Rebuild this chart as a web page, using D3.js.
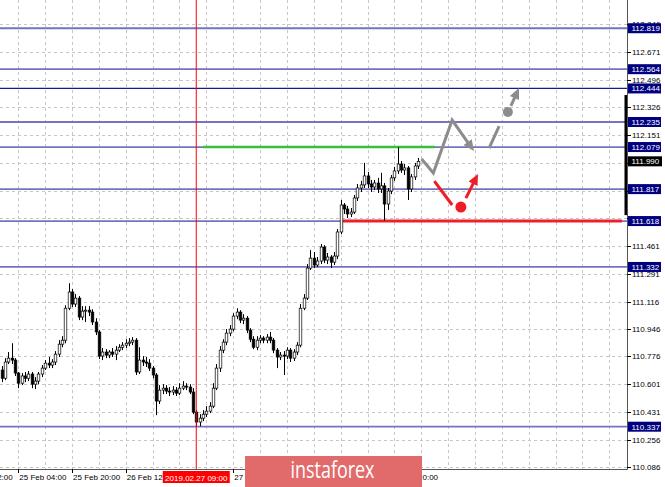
<!DOCTYPE html>
<html><head><meta charset="utf-8">
<script src="https://cdn.jsdelivr.net/npm/d3@7"></script>
<style>html,body{margin:0;padding:0;background:#fff;overflow:hidden}svg{display:block}</style>
</head><body><svg id="c" width="665" height="487"></svg>
<script>
// ---- data (USD/JPY H1) ----
const openP = [110.690,110.639,110.740,110.764,110.752,110.671,110.608,110.653,110.639,110.665,110.602,110.621,110.665,110.702,110.733,110.721,110.740,110.789,110.851,110.876,111.075,111.176,111.101,111.138,111.020,111.057,111.063,111.051,110.989,110.927,110.777,110.802,110.783,110.802,110.789,110.814,110.832,110.845,110.857,110.864,110.876,110.678,110.752,110.740,110.733,110.702,110.659,110.497,110.565,110.577,110.559,110.553,110.565,110.546,110.577,110.590,110.584,110.553,110.428,110.366,110.390,110.415,110.434,110.465,110.577,110.702,110.814,110.864,110.920,110.945,111.026,111.051,111.001,111.013,110.939,110.882,110.832,110.876,110.889,110.876,110.895,110.876,110.814,110.771,110.783,110.777,110.814,110.764,110.802,110.845,111.075,111.138,111.325,111.387,111.344,111.369,111.456,111.375,111.394,111.362,111.400,111.550,111.718,111.693,111.662,111.674,111.762,111.824,111.843,111.899,111.849,111.830,111.855,111.818,111.837,111.724,111.805,111.887,111.930,111.973,111.936,111.949,111.818,111.893,111.961];
const highP = [110.715,110.764,110.802,110.857,110.764,110.678,110.671,110.678,110.684,110.678,110.646,110.678,110.721,110.752,110.771,110.758,110.808,110.876,110.901,111.094,111.231,111.194,111.163,111.151,111.088,111.088,111.088,111.069,111.013,110.939,110.827,110.820,110.814,110.827,110.839,110.851,110.864,110.882,110.889,110.895,110.889,110.832,110.777,110.771,110.758,110.715,110.671,110.596,110.602,110.596,110.584,110.590,110.584,110.608,110.621,110.608,110.602,110.577,110.440,110.415,110.440,110.465,110.490,110.608,110.727,110.839,110.882,110.945,110.970,111.044,111.075,111.063,111.038,111.026,110.951,110.901,110.901,110.908,110.901,110.914,110.927,110.889,110.827,110.802,110.808,110.832,110.827,110.820,110.864,111.101,111.163,111.350,111.437,111.425,111.394,111.475,111.468,111.419,111.406,111.425,111.568,111.749,111.730,111.712,111.699,111.780,111.849,111.868,111.980,111.924,111.874,111.874,111.887,111.918,111.855,111.824,111.905,111.955,112.078,111.992,111.973,111.961,111.911,111.980,112.011];
const lowP = [110.615,110.627,110.727,110.727,110.653,110.577,110.596,110.615,110.621,110.577,110.571,110.602,110.646,110.690,110.702,110.702,110.721,110.771,110.832,110.857,111.063,111.082,111.082,111.001,111.001,110.989,111.026,110.970,110.908,110.758,110.752,110.764,110.764,110.771,110.752,110.802,110.814,110.827,110.839,110.845,110.659,110.665,110.715,110.709,110.684,110.639,110.409,110.478,110.540,110.540,110.528,110.534,110.528,110.534,110.565,110.565,110.540,110.415,110.337,110.340,110.372,110.397,110.422,110.453,110.565,110.678,110.795,110.845,110.901,110.932,111.007,110.982,110.976,110.920,110.864,110.820,110.814,110.857,110.857,110.857,110.857,110.795,110.702,110.752,110.659,110.758,110.740,110.746,110.783,110.832,111.063,111.126,111.313,111.325,111.331,111.350,111.356,111.350,111.325,111.344,111.381,111.537,111.662,111.637,111.643,111.662,111.743,111.799,111.824,111.824,111.799,111.811,111.793,111.793,111.620,111.687,111.786,111.868,111.911,111.918,111.905,111.749,111.799,111.874,111.942];
const closeP = [110.639,110.740,110.764,110.752,110.671,110.608,110.653,110.639,110.665,110.602,110.621,110.665,110.702,110.733,110.721,110.740,110.789,110.851,110.876,111.075,111.176,111.101,111.138,111.020,111.057,111.063,111.051,110.989,110.927,110.777,110.802,110.783,110.802,110.789,110.814,110.832,110.845,110.857,110.864,110.876,110.678,110.752,110.740,110.733,110.702,110.659,110.497,110.565,110.577,110.559,110.553,110.565,110.546,110.577,110.590,110.584,110.553,110.428,110.366,110.390,110.415,110.434,110.465,110.577,110.702,110.814,110.864,110.920,110.945,111.026,111.051,111.001,111.013,110.939,110.882,110.832,110.876,110.889,110.876,110.895,110.876,110.814,110.771,110.783,110.777,110.814,110.764,110.802,110.845,111.075,111.138,111.325,111.387,111.344,111.369,111.456,111.375,111.394,111.362,111.400,111.550,111.718,111.693,111.662,111.674,111.762,111.824,111.843,111.899,111.849,111.830,111.855,111.818,111.837,111.724,111.805,111.887,111.930,111.973,111.936,111.949,111.818,111.893,111.961,111.990];

const priceTicks = [110.086,110.256,110.431,110.601,110.776,110.946,111.116,111.291,111.461,111.636,111.806,111.981,112.151,112.326,112.496,112.671,112.846];
const levels = [112.819,112.564,112.444,112.235,112.079,111.817,111.618,111.332,110.337];
const currentPrice = 111.990;
const timeLabels = ["24 Feb 12:00","25 Feb 04:00","25 Feb 20:00","26 Feb 12:00","27 Feb 20:00","1 Mar 20:00"];
const timeLabelBars = [-11,5,21,37,69,117];
const markerBar = 58, markerLabel = "2019.02.27 09:00";
const gridBars = d3.range(5, 186, 8);

// analyst annotations in (bar, price)
const greenLine = [[60,112.079],[129,112.079]];
const redLine = [[101,111.618],[184.8,111.618]];
const rangeBar = [111.655,112.403];
const greyPath1 = [[125.1,112.004],[128.6,111.917],[134.2,112.247],[140.7,112.054]];
const greyPath2 = [[145.2,112.073],[148.2,112.210]];
const greyDot = [150.8,112.297];
const greyArrow = [[151.7,112.335],[154.1,112.447]];
const redPath = [[128.9,111.867],[134.2,111.718]];
const redDot = [136.8,111.705];
const redArrow = [[138.3,111.761],[141.9,111.911]];

// ---- drawing ----
const svg = d3.select("#c");
const W = 665, H = 487, plotR = 627, plotB = 469;
const x = d3.scaleLinear().domain([0,176]).range([1.5, 1.5+3.358*176]);
const y = d3.scaleLinear().domain([110.086,112.671]).range([467,52]);
const FONT = "'Liberation Sans', Arial, sans-serif";

svg.append("rect").attr("width",W).attr("height",H).attr("fill","#fff");
const plot = svg.append("g");
plot.append("clipPath").attr("id","pc").append("rect").attr("x",0).attr("y",0).attr("width",plotR).attr("height",plotB);
const g = plot.append("g").attr("clip-path","url(#pc)");

// grid
g.selectAll("line.hg").data(priceTicks).join("line")
  .attr("x1",0).attr("x2",plotR).attr("y1",d=>Math.round(y(d))+0.5).attr("y2",d=>Math.round(y(d))+0.5)
  .attr("stroke","#c6c6c6").attr("stroke-dasharray","3,3").attr("stroke-width",1);
g.selectAll("line.vg").data(gridBars).join("line")
  .attr("x1",d=>Math.round(x(d))+0.5).attr("x2",d=>Math.round(x(d))+0.5).attr("y1",0).attr("y2",plotB)
  .attr("stroke","#c6c6c6").attr("stroke-dasharray","3,3").attr("stroke-width",1);

// level lines
g.selectAll("line.lv").data(levels).join("line")
  .attr("x1",0).attr("x2",plotR).attr("y1",d=>y(d)).attr("y2",d=>y(d))
  .attr("stroke",d=>d===112.444?"#1a1a86":"#7373c2").attr("stroke-width",d=>d===112.444?1.3:1.8);

const line = d3.line().x(d=>x(d[0])).y(d=>y(d[1]));
g.append("path").attr("d",line(greenLine)).attr("stroke","#38c038").attr("stroke-width",2.6).attr("fill","none");
g.append("path").attr("d",line(redLine)).attr("stroke","#f0202a").attr("stroke-width",3).attr("fill","none");

// candles
const idx = d3.range(closeP.length);
const cg = g.append("g");
cg.selectAll("line.w").data(idx).join("line")
  .attr("x1",i=>Math.round(x(i))+0.5).attr("x2",i=>Math.round(x(i))+0.5)
  .attr("y1",i=>y(highP[i])).attr("y2",i=>y(lowP[i]))
  .attr("stroke","#000").attr("stroke-width",1);
cg.selectAll("rect.b").data(idx).join("rect")
  .attr("x",i=>Math.round(x(i))-0.8).attr("width",2.6)
  .attr("y",i=>y(Math.max(openP[i],closeP[i])))
  .attr("height",i=>Math.max(1,Math.abs(y(openP[i])-y(closeP[i]))))
  .attr("fill",i=>closeP[i]>=openP[i]?"#fff":"#000")
  .attr("stroke","#000").attr("stroke-width",0.7);

// forecast annotations
function arrowHead(sel, p0, p1, color, len, wid){
  const x0=x(p0[0]), y0=y(p0[1]), x1=x(p1[0]), y1=y(p1[1]);
  const a=Math.atan2(y1-y0,x1-x0), c=Math.cos(a), s=Math.sin(a);
  const bx=x1-len*c, by=y1-len*s;
  sel.append("polygon").attr("points",[[x1,y1],[bx-wid/2*s,by+wid/2*c],[bx+wid/2*s,by-wid/2*c]].map(p=>p.join(",")).join(" ")).attr("fill",color);
}
function shortLine(p0,p1,len){
  const x0=x(p0[0]), y0=y(p0[1]), x1=x(p1[0]), y1=y(p1[1]);
  const d=Math.hypot(x1-x0,y1-y0);
  return [x1-(x1-x0)*len/d, y1-(y1-y0)*len/d];
}
const ag = g.append("g").attr("fill","none");
const GREY="#8c8c8c", RED="#ee1c25";
{
  const pts = greyPath1.map(d=>[x(d[0]),y(d[1])]);
  const n=greyPath1.length; pts[n-1]=shortLine(greyPath1[n-2],greyPath1[n-1],8);
  ag.append("path").attr("d",d3.line()(pts)).attr("stroke",GREY).attr("stroke-width",3).attr("fill","none");
  arrowHead(ag,greyPath1[n-2],greyPath1[n-1],GREY,11,10);
  ag.append("path").attr("d",line(greyPath2)).attr("stroke",GREY).attr("stroke-width",3);
  ag.append("circle").attr("cx",x(greyDot[0])).attr("cy",y(greyDot[1])).attr("r",5).attr("fill",GREY);
  const e = shortLine(greyArrow[0],greyArrow[1],8);
  ag.append("path").attr("d",d3.line()([[x(greyArrow[0][0]),y(greyArrow[0][1])],e])).attr("stroke",GREY).attr("stroke-width",3);
  arrowHead(ag,greyArrow[0],greyArrow[1],GREY,11,10);

  ag.append("path").attr("d",line(redPath)).attr("stroke",RED).attr("stroke-width",3);
  ag.append("circle").attr("cx",x(redDot[0])).attr("cy",y(redDot[1])).attr("r",5.5).attr("fill",RED);
  const e2 = shortLine(redArrow[0],redArrow[1],8);
  ag.append("path").attr("d",d3.line()([[x(redArrow[0][0]),y(redArrow[0][1])],e2])).attr("stroke",RED).attr("stroke-width",3);
  arrowHead(ag,redArrow[0],redArrow[1],RED,11,10);
}

// marker vertical line
g.append("line").attr("x1",x(markerBar)).attr("x2",x(markerBar)).attr("y1",0).attr("y2",plotB)
  .attr("stroke","#ff0000").attr("stroke-width",1);

// range bar at right edge
svg.append("rect").attr("x",plotR-2.5).attr("width",2.5).attr("y",y(rangeBar[1])).attr("height",y(rangeBar[0])-y(rangeBar[1])).attr("fill","#000");

// frame
svg.append("line").attr("x1",plotR+0.5).attr("x2",plotR+0.5).attr("y1",0).attr("y2",plotB+0.5).attr("stroke","#555").attr("stroke-width",1);
svg.append("line").attr("x1",0).attr("x2",plotR+0.5).attr("y1",plotB+0.5).attr("y2",plotB+0.5).attr("stroke","#555").attr("stroke-width",1);

// price axis (labels hidden where a level/price box covers them, as in the terminal)
const boxPrices = levels.concat([currentPrice]);
const visibleTicks = priceTicks.filter(t => !boxPrices.some(b => Math.abs(y(b)-y(t)) < 3.5));
const pa = svg.append("g");
pa.selectAll("line").data(priceTicks).join("line")
  .attr("x1",plotR).attr("x2",plotR+4).attr("y1",d=>Math.round(y(d))+0.5).attr("y2",d=>Math.round(y(d))+0.5).attr("stroke","#000");
pa.selectAll("text").data(visibleTicks).join("text")
  .attr("x",plotR+5).attr("y",d=>y(d)+3).text(d=>d.toFixed(3))
  .attr("font-family",FONT).attr("font-size","8px").attr("fill","#000");

// level labels
const lb = svg.append("g");
const lvG = lb.selectAll("g").data(levels).join("g").attr("transform",d=>`translate(${plotR+1},${y(d)})`);
lvG.append("rect").attr("x",0).attr("y",-5).attr("width",33).attr("height",10).attr("fill","#000080");
lvG.append("text").attr("x",3.5).attr("y",3).text(d=>d.toFixed(3)).attr("font-family",FONT).attr("font-size","8px").attr("fill","#fff");
const cp = lb.append("g").attr("transform",`translate(${plotR+1},${y(currentPrice)})`);
cp.append("rect").attr("x",0).attr("y",-5).attr("width",34).attr("height",10).attr("fill","#000");
cp.append("text").attr("x",3.5).attr("y",3).text(currentPrice.toFixed(3)).attr("font-family",FONT).attr("font-size","8px").attr("fill","#fff");

// time axis
const ta = svg.append("g");
ta.selectAll("line").data(timeLabelBars).join("line")
  .attr("x1",d=>Math.round(x(d))+0.5).attr("x2",d=>Math.round(x(d))+0.5).attr("y1",plotB).attr("y2",plotB+4).attr("stroke","#000");
ta.selectAll("text").data(timeLabelBars).join("text")
  .attr("x",d=>x(d)+1).attr("y",480).text((d,i)=>timeLabels[i])
  .attr("font-family",FONT).attr("font-size","8px").attr("fill","#000");
const mk = svg.append("g").attr("transform",`translate(${x(markerBar)},0)`);
mk.append("rect").attr("x",-33.5).attr("y",471).attr("width",67).attr("height",12).attr("fill","#ff0000");
mk.append("text").attr("x",0).attr("y",480.5).attr("text-anchor","middle").text(markerLabel)
  .attr("font-family",FONT).attr("font-size","8px").attr("fill","#fff");

// logo
const lg = svg.append("g");
lg.append("rect").attr("x",245).attr("y",456).attr("width",177).attr("height",31).attr("fill","#e16b6b");
lg.append("text").attr("x",290.5).attr("y",477.5).text("instaforex")
  .attr("font-family","'Open Sans', sans-serif").attr("font-size","23px").attr("fill","#fff")
  .attr("textLength",84).attr("lengthAdjust","spacingAndGlyphs");
</script></body></html>
